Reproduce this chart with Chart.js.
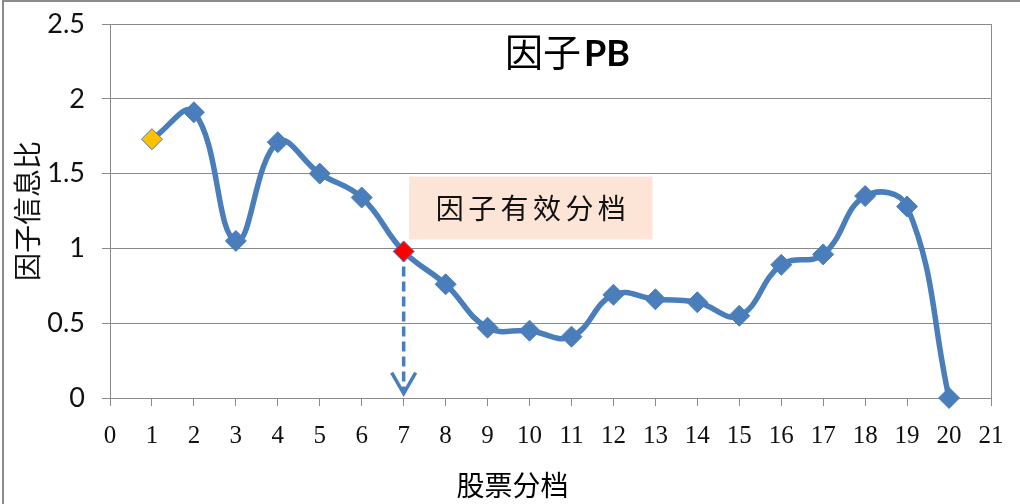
<!DOCTYPE html>
<html>
<head>
<meta charset="utf-8">
<script src="https://cdn.jsdelivr.net/npm/chart.js@4.4.1/dist/chart.umd.min.js"></script>
<style>
  html, body { margin: 0; padding: 0; background: #fff; }
</style>
</head>
<body>
<canvas id="pb_chart" width="1020" height="504"></canvas>
<script>
//Data
const bins = [1, 2, 3, 4, 5, 6, 7, 8, 9, 10, 11, 12, 13, 14, 15, 16, 17, 18, 19, 20];
const infoRatio = [1.73, 1.91, 1.05, 1.71, 1.50, 1.34, 0.98, 0.76, 0.47, 0.45, 0.41, 0.69, 0.66, 0.64, 0.55, 0.89, 0.96, 1.35, 1.28, 0.00];
const xTicks = [0, 1, 2, 3, 4, 5, 6, 7, 8, 9, 10, 11, 12, 13, 14, 15, 16, 17, 18, 19, 20, 21];
const yTicks = [0, 0.5, 1, 1.5, 2, 2.5];
const cutBin = 7;          // effective cut-off bin (red marker)
const arrowFrom = 0.98;    // dashed arrow start
const arrowTo = 0.03;      // dashed arrow tip

const BLUE = '#4a7ebb';
const GRID = '#8a8a8a';

const series = bins.map((b, i) => ({x: b, y: infoRatio[i]}));
const arrowLine = [{x: cutBin, y: arrowFrom}, {x: cutBin, y: arrowTo}];

//------------------------------------------

//decor plugin: outer frame, title, annotation box, arrowhead, x title
const decor = {
  id: 'decor',
  beforeDraw(chart) {
    const {ctx, width, height} = chart;
    ctx.save();
    ctx.strokeStyle = '#8c8c8c';
    ctx.lineWidth = 2;
    ctx.beginPath();
    ctx.moveTo(3, height);
    ctx.lineTo(3, 1);
    ctx.lineTo(width, 1);
    ctx.stroke();
    ctx.restore();
  },
  beforeDatasetsDraw(chart) {
    const {ctx, chartArea: {top, right, bottom}, scales: {x, y}} = chart;
    ctx.save();
    // right border of plot
    ctx.strokeStyle = GRID;
    ctx.lineWidth = 1;
    ctx.beginPath();
    ctx.moveTo(Math.round(right) + 0.5, top);
    ctx.lineTo(Math.round(right) + 0.5, bottom);
    ctx.stroke();

    // annotation box
    const bx1 = x.getPixelForValue(7.13), bx2 = x.getPixelForValue(12.93);
    const by1 = y.getPixelForValue(1.48), by2 = y.getPixelForValue(1.06);
    ctx.fillStyle = '#fce4d6';
    ctx.fillRect(bx1, by1, bx2 - bx1, by2 - by1);
    const label = '因子有效分档';
    ctx.font = '28px "Noto Sans CJK SC"';
    ctx.fillStyle = '#111';
    ctx.textBaseline = 'middle';
    ctx.textAlign = 'center';
    const step = 32.4;
    const cx = (bx1 + bx2) / 2, cy = (by1 + by2) / 2;
    for (let i = 0; i < label.length; i++) {
      ctx.fillText(label[i], cx + (i - (label.length - 1) / 2) * step, cy);
    }
    ctx.restore();
  },
  afterDatasetsDraw(chart) {
    const {ctx, scales: {x, y}} = chart;
    const tx = x.getPixelForValue(cutBin), ty = y.getPixelForValue(arrowTo);
    ctx.save();
    ctx.strokeStyle = BLUE;
    ctx.lineWidth = 3.5;
    ctx.beginPath();
    ctx.moveTo(tx - 12, ty - 21);
    ctx.lineTo(tx, ty);
    ctx.lineTo(tx + 12, ty - 21);
    ctx.stroke();
    ctx.restore();
  },
  afterDraw(chart) {
    const {ctx, chartArea: {left, right}} = chart;
    ctx.save();
    ctx.fillStyle = '#000';
    ctx.textBaseline = 'middle';
    // chart title
    ctx.textAlign = 'left';
    ctx.font = '38px "Noto Sans CJK SC"';
    ctx.fillText('因子', 505, 52);
    ctx.font = 'bold 36px Lato, "Noto Sans CJK SC"';
    ctx.fillText('PB', 584, 54);
    // x axis title
    ctx.textAlign = 'center';
    ctx.font = '28px "Noto Sans CJK SC"';
    ctx.fillText('股票分档', (left + right) / 2 - 38, 485);
    ctx.restore();
  }
};

//------------------------------------------

const config = {
  type: 'line',
  data: {
    datasets: [
      {
        label: '因子信息比',
        data: series,
        borderColor: BLUE,
        borderWidth: 5.5,
        tension: 0.42,
        pointStyle: 'rectRot',
        pointRadius: 10.5,
        pointBorderWidth: 1,
        pointBorderColor: BLUE,
        pointBackgroundColor: ctx => ctx.dataIndex === 0 ? '#ffc000' : (bins[ctx.dataIndex] === cutBin ? '#ff0000' : BLUE),
        clip: false
      },
      {
        label: 'arrow',
        data: arrowLine,
        borderColor: BLUE,
        borderWidth: 3.5,
        borderDash: [10, 5],
        pointRadius: 0,
        tension: 0,
        clip: false
      }
    ]
  },
  options: {
    responsive: false,
    animation: false,
    layout: {padding: {left: 0, top: 24, right: 29, bottom: 0}},
    plugins: {
      legend: {display: false},
      tooltip: {enabled: false}
    },
    scales: {
      x: {
        type: 'linear',
        min: 0,
        max: 21,
        afterBuildTicks: s => { s.ticks = xTicks.map(v => ({value: v})); },
        afterFit: s => { s.height = 106; s.paddingLeft = 0; s.paddingRight = 0; },
        grid: {drawOnChartArea: false, drawTicks: true, tickLength: 8, color: GRID},
        border: {display: true, color: GRID, width: 1},
        ticks: {
          autoSkip: false,
          maxRotation: 0,
          padding: 15,
          color: '#111',
          font: {family: '"Liberation Serif"', size: 25}
        }
      },
      y: {
        min: 0,
        max: 2.5,
        afterBuildTicks: s => { s.ticks = yTicks.map(v => ({value: v})); },
        afterFit: s => { s.width = 110; s.paddingTop = 0; s.paddingBottom = 0; },
        grid: {color: GRID, tickLength: 8},
        border: {display: true, color: GRID, width: 1},
        ticks: {
          padding: 17,
          color: '#111',
          font: {family: 'Lato', size: 27},
          callback: v => String(v)
        },
        title: {
          display: true,
          text: '因子信息比',
          color: '#111',
          padding: {top: 11, bottom: 0},
          font: {family: '"Noto Sans CJK SC"', size: 28}
        }
      }
    }
  },
  plugins: [decor]
};

//Render chart
const pb_chart = new Chart(document.getElementById('pb_chart'), config);
</script>
</body>
</html>
